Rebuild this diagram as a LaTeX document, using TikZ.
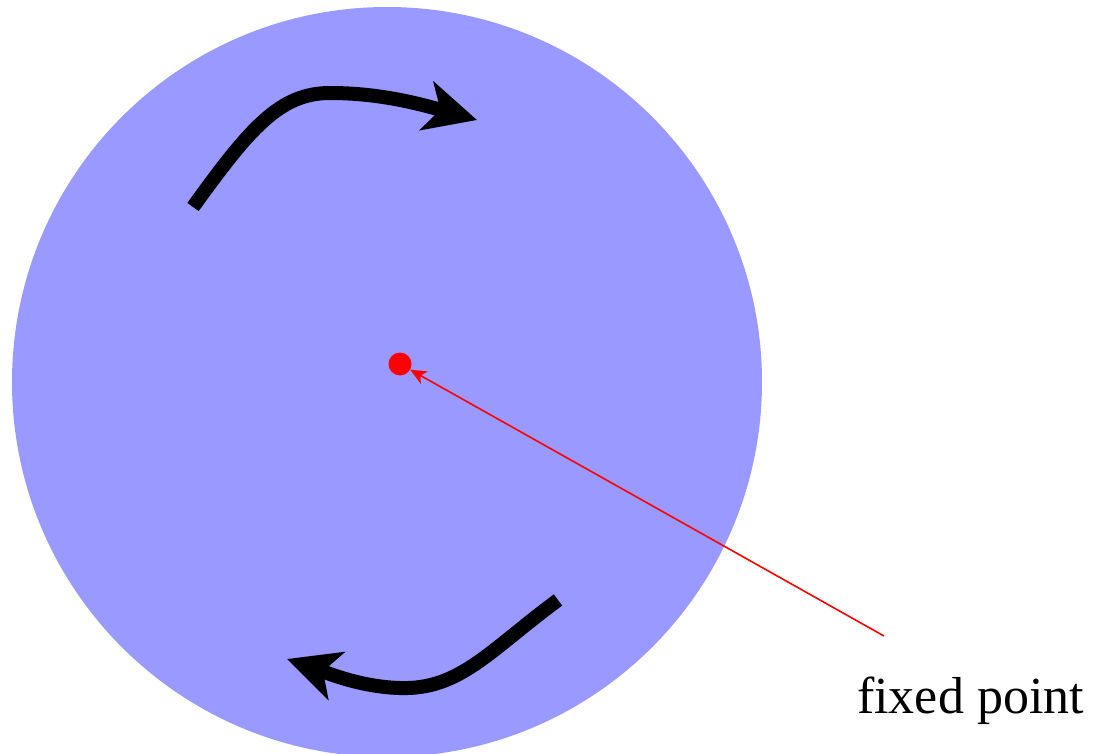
\documentclass[tikz,border=0pt]{standalone}
\usepackage{fontspec}
\setmainfont{Liberation Serif}
\usetikzlibrary{arrows.meta}
\begin{document}
\begin{tikzpicture}[x=1pt,y=-1pt,
  disc/.style={fill=blue!40},
  turn/.style={line width=14pt,-{Stealth[length=52pt,width=50pt,inset=14pt]}},
  pointer/.style={red,line width=1.6pt,-{Stealth[length=16pt,width=14pt,inset=4pt]}},
  fixdot/.style={circle,fill=red,inner sep=0pt,minimum size=23pt},
  label/.style={font=\fontsize{52}{60}\selectfont,inner sep=0pt}]
\useasboundingbox (0,0) rectangle (1095,754);
\clip (0,0) rectangle (1095,754);
\fill[disc] (387,382) circle (375);
\node[fixdot] (dot) at (400,364) {};
\node[label,anchor=base west] (txt) at (857,713) {fixed point};
\coordinate (lab) at (884,636);
\draw[pointer] (lab) -- (dot);
\draw[turn] (193,207) .. controls (250,128) and (280,93) .. (330,93)
  .. controls (380,93) and (420,104) .. (477,120);
\draw[turn] (558,600) .. controls (490,650) and (460,690) .. (400,688)
  .. controls (360,687) and (325,672) .. (287,659);
\end{tikzpicture}
\end{document}
